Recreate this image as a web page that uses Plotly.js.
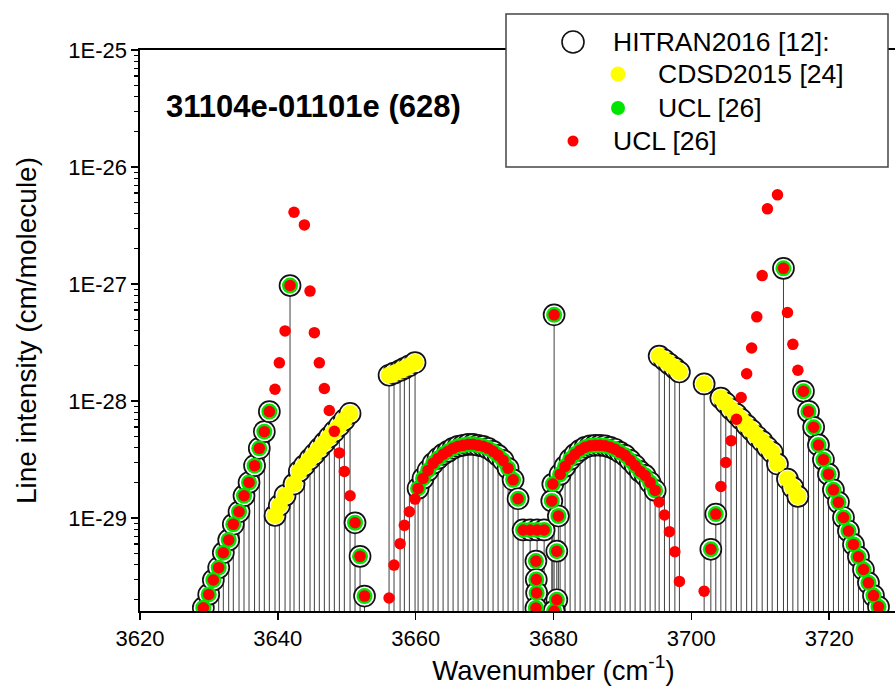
<!DOCTYPE html>
<html>
<head>
<meta charset="utf-8">
<script src="https://cdn.plot.ly/plotly-3.0.1.min.js"></script>
<style>
  html, body { margin: 0; padding: 0; background: #fff; overflow: hidden; }
  #plot { width: 967px; height: 692px; }
</style>
</head>
<body>
<div id="plot"></div>
<script>
// 31104e-01101e band of 16O12C18O (628)

// HITRAN2016 lines whose intensities are taken from CDSD2015
const cdsdX = [3639.59, 3640.22, 3641.05, 3642.35, 3643.12, 3643.85, 3644.67, 3645.30, 3646.02, 3646.75,
               3647.47, 3648.20, 3648.93, 3649.65, 3650.48,
               3656.14, 3656.86, 3657.74, 3658.36, 3659.09, 3659.91,
               3695.33, 3696.10, 3696.82, 3697.61, 3698.27,
               3701.86, 3704.28, 3705.00, 3705.77, 3706.55, 3707.23, 3708.03, 3708.75, 3709.50, 3710.28,
               3711.04, 3711.73, 3712.50, 3713.95, 3714.73, 3715.46];
const cdsdY = [1.05e-29, 1.28e-29, 1.56e-29, 1.95e-29, 2.51e-29, 2.81e-29, 3.19e-29, 3.51e-29, 3.93e-29, 4.40e-29,
               4.92e-29, 5.50e-29, 6.15e-29, 6.89e-29, 7.83e-29,
               1.66e-28, 1.73e-28, 1.82e-28, 1.90e-28, 2.00e-28, 2.13e-28,
               2.42e-28, 2.24e-28, 2.07e-28, 1.91e-28, 1.77e-28,
               1.40e-28, 1.06e-28, 9.58e-29, 8.50e-29, 7.70e-29, 6.98e-29, 6.20e-29, 5.62e-29, 4.99e-29, 4.52e-29,
               4.01e-29, 3.64e-29, 2.89e-29, 2.15e-29, 1.82e-29, 1.53e-29];

// HITRAN2016 lines whose intensities are taken from UCL
const hitUclX = [3629.19, 3629.97, 3630.64, 3631.42, 3632.09, 3632.87, 3633.54, 3634.37, 3635.09, 3635.82,
                 3636.62, 3637.31, 3638.04, 3638.77,
                 3641.77,
                 3651.20, 3651.93, 3652.58,
                 3660.35, 3661.07, 3661.80, 3662.53, 3663.25, 3663.98, 3664.70, 3665.43, 3666.15, 3666.88,
                 3667.60, 3668.33, 3669.06, 3669.78, 3670.51, 3671.23, 3671.96, 3672.68, 3673.41, 3674.14, 3674.86,
                 3675.59, 3676.61, 3677.62, 3678.64,
                 3677.45, 3677.50, 3677.55, 3677.45,
                 3679.90, 3679.75, 3680.71, 3680.48, 3680.48, 3680.09,
                 3680.09,
                 3680.96, 3681.68, 3682.41, 3683.13, 3683.86, 3684.59, 3685.31, 3686.04, 3686.76, 3687.49,
                 3688.22, 3688.94, 3689.67, 3690.39, 3691.12, 3691.84, 3692.57, 3693.30, 3694.02, 3694.75,
                 3702.83, 3703.55,
                 3713.37,
                 3716.27, 3717.00, 3717.75, 3718.45, 3719.17, 3719.90, 3720.62, 3721.35, 3722.08, 3722.80,
                 3723.53, 3724.25, 3724.98, 3725.70, 3726.43, 3727.16];
const hitUclY = [1.71e-30, 2.22e-30, 2.95e-30, 3.76e-30, 5.05e-30, 6.49e-30, 8.83e-30, 1.13e-29, 1.55e-29, 2.01e-29,
                 2.80e-29, 3.94e-29, 5.47e-29, 8.12e-29,
                 9.70e-28,
                 9.10e-30, 4.70e-30, 2.15e-30,
                 1.79e-29, 2.18e-29, 2.55e-29, 2.93e-29, 3.23e-29, 3.50e-29, 3.71e-29, 3.94e-29, 4.10e-29, 4.18e-29,
                 4.26e-29, 4.26e-29, 4.18e-29, 4.10e-29, 3.94e-29, 3.71e-29, 3.43e-29, 3.11e-29, 2.66e-29, 2.12e-29, 1.46e-29,
                 7.90e-30, 7.90e-30, 7.90e-30, 7.90e-30,
                 4.28e-30, 2.98e-30, 2.29e-30, 1.70e-30,
                 1.95e-29, 1.40e-29, 1.04e-29, 5.20e-30, 2.00e-30, 1.60e-30,
                 5.45e-28,
                 2.36e-29, 2.76e-29, 3.17e-29, 3.50e-29, 3.79e-29, 4.02e-29, 4.14e-29, 4.18e-29, 4.18e-29, 4.14e-29,
                 4.02e-29, 3.87e-29, 3.64e-29, 3.43e-29, 3.11e-29, 2.81e-29, 2.50e-29, 2.31e-29, 2.01e-29, 1.72e-29,
                 5.40e-30, 1.08e-29,
                 1.36e-27,
                 1.21e-28, 8.15e-29, 5.96e-29, 4.21e-29, 3.15e-29, 2.37e-29, 1.74e-29, 1.36e-29, 1.01e-29, 7.74e-30,
                 5.94e-30, 4.66e-30, 3.63e-30, 2.79e-30, 2.17e-30, 1.74e-30];

// UCL intensities for the lines that HITRAN2016 took from CDSD2015
const uclOnlyX = [3639.59, 3640.22, 3641.05, 3642.35, 3643.85, 3644.67, 3645.30, 3646.02, 3646.75, 3647.47,
                  3648.20, 3648.93, 3649.65, 3650.48,
                  3656.14, 3656.86, 3657.74, 3658.36, 3659.09, 3659.91,
                  3695.33, 3696.10, 3696.82, 3697.61, 3698.27,
                  3701.86, 3704.28, 3705.00, 3705.77, 3706.55, 3707.23, 3708.03, 3708.75, 3709.50, 3710.28,
                  3711.04, 3712.50, 3713.95, 3714.73, 3715.46];
const uclOnlyY = [1.26e-28, 2.12e-28, 3.97e-28, 4.10e-27, 3.20e-27, 8.70e-28, 3.84e-28, 2.12e-28, 1.28e-28, 8.30e-29,
                  5.50e-29, 3.60e-29, 2.50e-29, 1.55e-29,
                  2.07e-30, 3.96e-30, 6.03e-30, 8.65e-30, 1.13e-29, 1.45e-29,
                  1.37e-29, 1.06e-29, 7.64e-30, 5.15e-30, 2.87e-30,
                  2.37e-30, 1.86e-29, 2.98e-29, 4.58e-29, 6.98e-29, 1.07e-28, 1.71e-28, 2.84e-28, 5.24e-28, 1.18e-27,
                  4.39e-27, 5.78e-27, 5.71e-28, 3.05e-28, 1.83e-28];

const xTickVals = [3620, 3640, 3660, 3680, 3700, 3720];
const yTickVals = [1e-29, 1e-28, 1e-27, 1e-26, 1e-25];
const yTickText = ['1E-29', '1E-28', '1E-27', '1E-26', '1E-25'];

// ---- derived drawing data ----
const hitX = cdsdX.concat(hitUclX);
const hitY = cdsdY.concat(hitUclY);
const redX = hitUclX.concat(uclOnlyX);
const redY = hitUclY.concat(uclOnlyY);

// vertical sticks from every HITRAN line down past the bottom of the axis
const FLOOR = 1e-31;
const stickX = [], stickY = [];
hitX.forEach((x, i) => { stickX.push(x, x, null); stickY.push(hitY[i], FLOOR, null); });

// minor ticks at 2..9 within each decade
const minorVals = [];
for (let d = -30; d <= -26; d++) {
  for (let k = 2; k <= 9; k++) {
    const v = k * Math.pow(10, d);
    if (v > 1.6e-30 && v < 1e-25) minorVals.push(v);
  }
}

const traces = [
  { x: stickX, y: stickY, type: 'scatter', mode: 'lines',
    line: { color: '#2a2a2a', width: 0.9 }, hoverinfo: 'skip' },
  { x: hitX, y: hitY, type: 'scatter', mode: 'markers', name: 'HITRAN2016 [12]',
    marker: { symbol: 'circle', size: 21, color: '#ffffff', line: { color: '#111', width: 1.7 } } },
  { x: cdsdX, y: cdsdY, type: 'scatter', mode: 'markers', name: 'CDSD2015 [24]',
    marker: { symbol: 'circle', size: 17, color: '#ffff00' } },
  { x: hitUclX, y: hitUclY, type: 'scatter', mode: 'markers', name: 'UCL [26]',
    marker: { symbol: 'circle', size: 16, color: '#00e600' } },
  { x: redX, y: redY, type: 'scatter', mode: 'markers', name: 'UCL [26]',
    marker: { symbol: 'circle', size: 11.5, color: '#ff0000' } }
];

// plot-area geometry (pixels) used for the hand-built key
const W = 967, H = 692;
const L = 140, R = 967, T = 50, B = 611;
const px = v => (v - L) / (R - L);
const py = v => (B - v) / (B - T);

function dot(cx, cy, r, fill, line) {
  return { type: 'circle', xref: 'paper', yref: 'paper', xsizemode: 'pixel', ysizemode: 'pixel',
           xanchor: px(cx), yanchor: py(cy), x0: -r, x1: r, y0: -r, y1: r,
           fillcolor: fill, line: line || { width: 0 }, layer: 'above' };
}
function label(text, lx, ly, size, bold) {
  return { xref: 'paper', yref: 'paper', x: px(lx), y: py(ly), xanchor: 'left', yanchor: 'middle',
           showarrow: false, text: bold ? '<b>' + text + '</b>' : text,
           font: { size: size, color: '#000', family: '"Liberation Sans", Arial, sans-serif' } };
}

const layout = {
  width: W, height: H,
  margin: { l: L, r: W - R, t: T, b: H - B },
  paper_bgcolor: '#ffffff', plot_bgcolor: '#ffffff',
  showlegend: false,
  font: { family: '"Liberation Sans", Arial, sans-serif', color: '#000' },
  xaxis: {
    range: [3620, 3740], tickmode: 'array', tickvals: xTickVals,
    ticks: 'outside', ticklen: 7, tickwidth: 1.5, tickcolor: '#000',
    showline: true, linewidth: 1.6, linecolor: '#000', mirror: true,
    showgrid: false, zeroline: false, tickfont: { size: 22 },
    title: { text: 'Wavenumber (cm<sup>-1</sup>)', font: { size: 27.5 }, standoff: 10 }
  },
  yaxis: {
    type: 'log', range: [-29.795, -25], tickmode: 'array', tickvals: yTickVals, ticktext: yTickText,
    ticks: 'outside', ticklen: 7, tickwidth: 1.5, tickcolor: '#000',
    minor: { tickmode: 'array', tickvals: minorVals, ticks: 'outside', ticklen: 4, tickwidth: 1.2, tickcolor: '#000', showgrid: false },
    showline: true, linewidth: 1.6, linecolor: '#000', mirror: false,
    showgrid: false, zeroline: false, tickfont: { size: 22 },
    title: { text: 'Line intensity (cm/molecule)', font: { size: 28 }, standoff: 23 }
  },
  shapes: [
    { type: 'rect', xref: 'paper', yref: 'paper', x0: px(506), x1: px(888), y0: py(167), y1: py(14),
      fillcolor: '#ffffff', line: { color: '#444', width: 1.5 }, layer: 'above' },
    dot(573, 42, 11, '#ffffff', { color: '#111', width: 1.6 }),
    dot(618, 74, 7.5, '#ffff00'),
    dot(618, 108, 7, '#00e600'),
    dot(573, 141, 5.5, '#ff0000')
  ],
  annotations: [
    label('31104e-01101e (628)', 164, 107, 31, true),
    label('HITRAN2016 [12]:', 611, 42, 26.5),
    label('CDSD2015 [24]', 656, 74, 26.5),
    label('UCL [26]', 656, 108, 26.5),
    label('UCL [26]', 611, 141, 26.5)
  ]
};

Plotly.newPlot('plot', traces, layout, { displayModeBar: false, staticPlot: true });
</script>
</body>
</html>
